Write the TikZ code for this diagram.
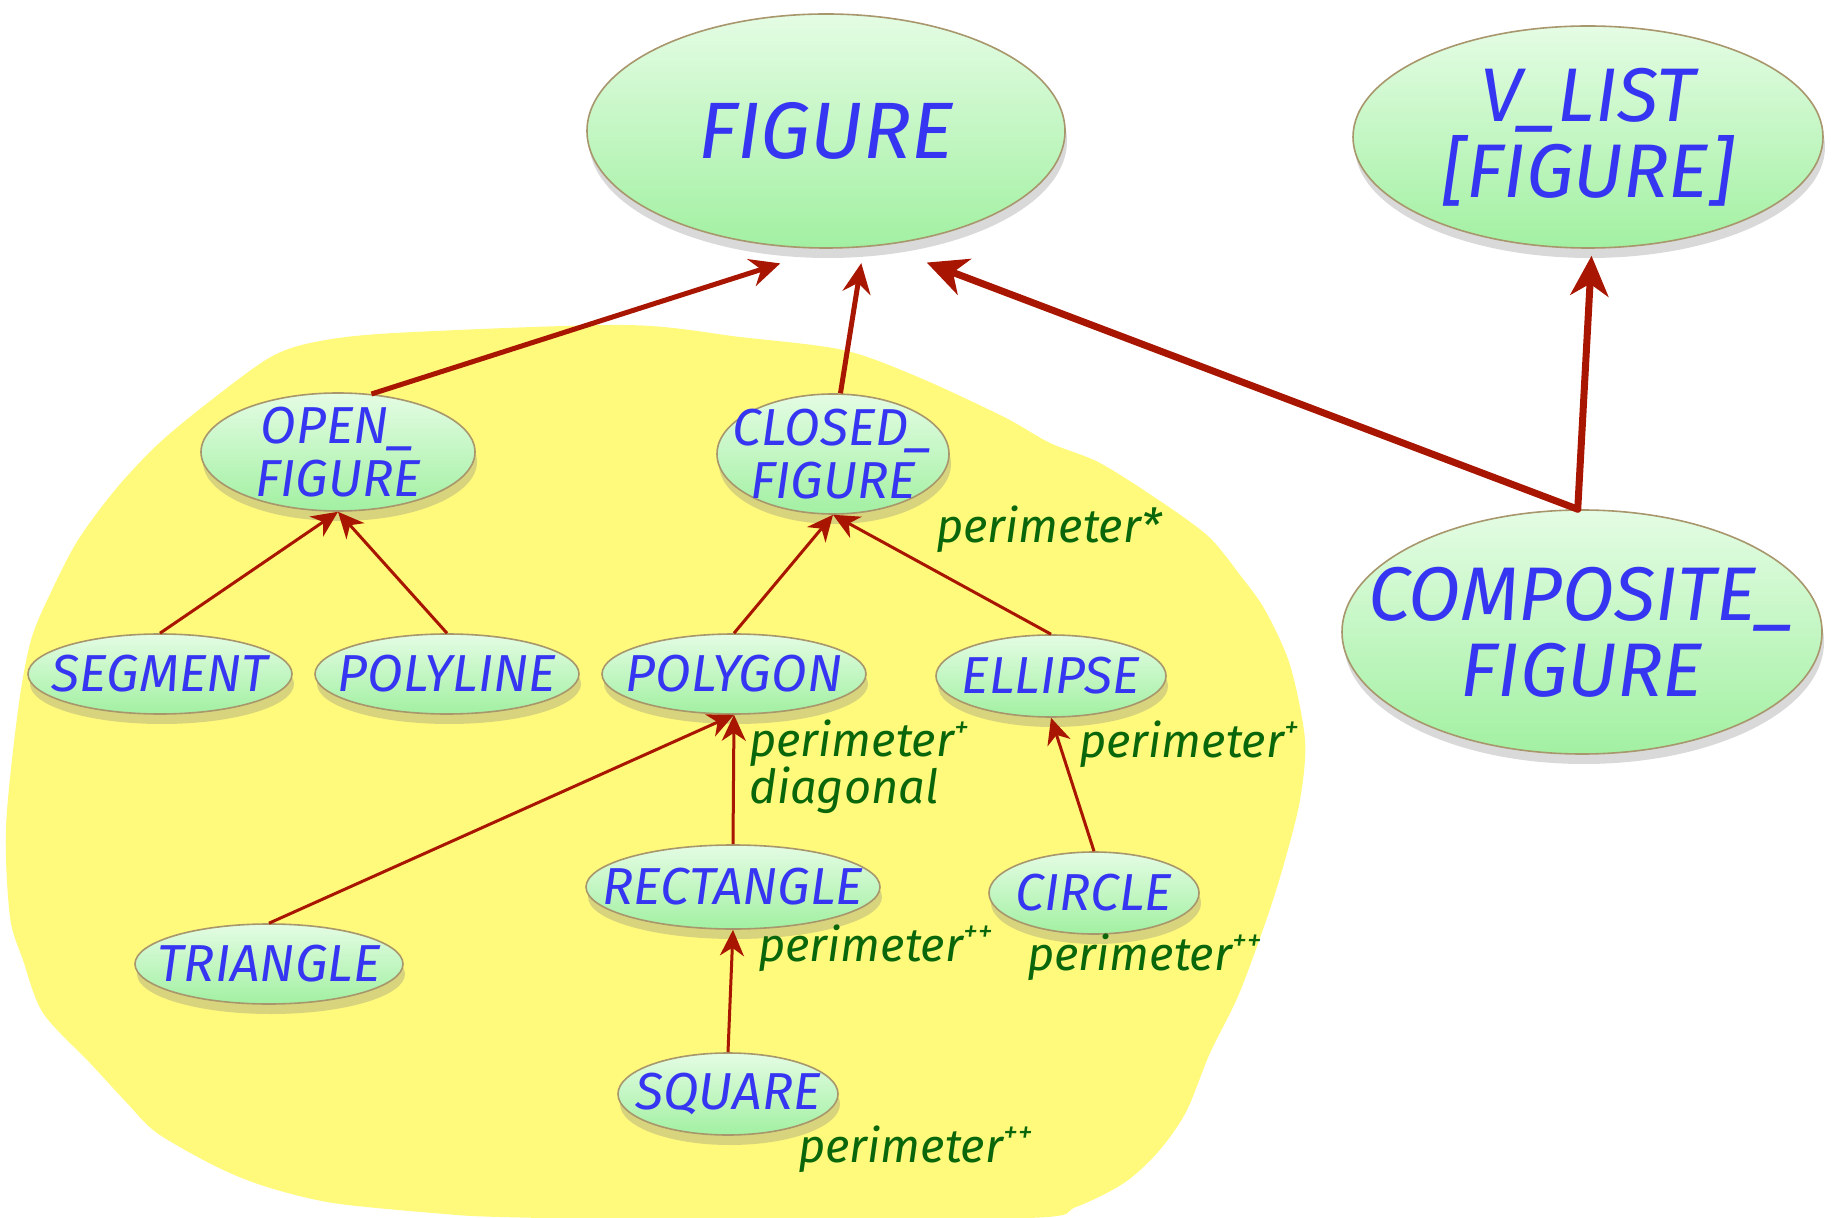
\documentclass[tikz,border=0pt]{standalone}
\usepackage{fontspec}
\setmainfont{Fira Sans}
\usetikzlibrary{shapes.geometric, arrows.meta, shadows}
\definecolor{nodetop}{HTML}{E4FCE4}
\definecolor{nodemid}{HTML}{B4F6B4}
\definecolor{nodebot}{HTML}{A2F0A2}
\definecolor{nodeline}{HTML}{A8966C}
\definecolor{clsblue}{HTML}{3636F2}
\definecolor{featgreen}{HTML}{0A660A}
\definecolor{inhred}{HTML}{A81500}
\definecolor{blob}{HTML}{FFF97C}
\newcommand{\redef}[1]{\raisebox{0.42em}{\fontsize{15}{15}\selectfont #1}}
\tikzstyle{cls} = [ellipse,
draw=nodeline,
line width=0.8pt,
top color=nodetop,
middle color=nodemid,
bottom color=nodebot,
inner sep=0pt,
drop shadow={shadow xshift=1pt, shadow yshift=-5pt, opacity=0.3}]
\tikzstyle{bigclsname} = [font=\fontsize{38}{38}\selectfont\itshape,
text=clsblue,
align=center]
\tikzstyle{clsname} = [font=\fontsize{26}{26.5}\selectfont\itshape,
text=clsblue,
align=center]
\tikzstyle{feat} = [font=\fontsize{23.5}{23.5}\selectfont\itshape,
text=featgreen,
align=left,
inner sep=0pt,
anchor=west]
\tikzstyle{arrow} = [line width=1.5pt, draw=inhred,
-{Stealth[length=13pt, width=12pt, inset=4pt]}]
\tikzstyle{midarrow} = [line width=2.5pt, draw=inhred,
-{Stealth[length=15pt, width=14pt, inset=5pt]}]
\tikzstyle{bigarrow} = [line width=3.5pt, draw=inhred, line cap=round,
-{Stealth[length=20pt, width=19pt, inset=6pt]}]
\begin{document}
\begin{tikzpicture}[x=0.5pt, y=-0.5pt]
\useasboundingbox (0,0) rectangle (1835,1218);

% yellow area
\fill [blob] plot [smooth cycle, tension=0.5] coordinates {
(269,358) (315,342) (395,333) (625,325) (740,337) (843,350) (918,377)
(1004,417) (1050,443) (1100,463) (1163,503) (1209,537)
(1240,575) (1265,610) (1290,665) (1305,740) (1300,800) (1285,860)
(1268,915) (1239,994) (1210,1053) (1186,1112) (1158,1152) (1124,1183)
(1076,1207) (1028,1218) (700,1220) (500,1217) (433,1213) (333,1203)
(267,1187) (217,1167) (157,1133) (127,1103) (90,1063)
(43,1013) (23,960) (10,917) (6,827) (18,710) (31,640) (52,590)
(78,540) (115,490) (156,446) (205,405)};

\node (fig) [cls, minimum width=239pt, minimum height=117pt,
  label={[bigclsname, font=\fontsize{40}{40}\selectfont\itshape]center:FIGURE}] at (826,131) {};
\node (vlist) [cls, minimum width=235pt, minimum height=111pt,
  label={[bigclsname]center:{V\_LIST\\{}[FIGURE]}}] at (1588,137) {};
\node (comp) [cls, minimum width=240pt, minimum height=122pt,
  label={[bigclsname]center:{COMPOSITE\_\\FIGURE}}] at (1582,632) {};

\node (open) [cls, minimum width=137pt, minimum height=59pt,
  label={[clsname]center:{OPEN\_\\FIGURE}}] at (338,452) {};
\node (closed) [cls, minimum width=116pt, minimum height=60pt,
  label={[clsname]center:{CLOSED\_\\FIGURE}}] at (833,454) {};

\node (seg) [cls, minimum width=132pt, minimum height=40pt,
  label={[clsname]center:SEGMENT}] at (160,674) {};
\node (pline) [cls, minimum width=132pt, minimum height=40pt,
  label={[clsname]center:POLYLINE}] at (447,674) {};
\node (pgon) [cls, minimum width=132pt, minimum height=40pt,
  label={[clsname]center:POLYGON}] at (734,674) {};
\node (ell) [cls, minimum width=115pt, minimum height=41pt,
  label={[clsname]center:ELLIPSE}] at (1051,676) {};
\node (rect) [cls, minimum width=147pt, minimum height=42pt,
  label={[clsname]center:RECTANGLE}] at (733,887) {};
\node (circ) [cls, minimum width=105pt, minimum height=41pt,
  label={[clsname]center:CIRCLE}] at (1094,893) {};
\node (tri) [cls, minimum width=134pt, minimum height=40pt,
  label={[clsname]center:TRIANGLE}] at (269,964) {};
\node (sq) [cls, minimum width=110pt, minimum height=41pt,
  label={[clsname]center:SQUARE}] at (728,1094) {};

% features
\node (fclosed) [feat] at (936,529) {perimeter*};
\node (fpgon) [feat] at (749,767) {perimeter\redef{+}\\diagonal};
\node (fell) [feat] at (1079,744) {perimeter\redef{+}};
\node (frect) [feat] at (758,948) {perimeter\redef{++}};
\node (fcirc) [feat] at (1027,957) {perimeter\redef{++}};
\node (fsq) [feat] at (798,1149) {perimeter\redef{++}};

\draw [midarrow, shorten >=24pt] (open.60) -- (fig.south);
\draw [midarrow, shorten >=8pt] (closed.83) -- (fig.288);
\draw [bigarrow, shorten >=24pt] (comp.92) -- (fig.296);
\draw [bigarrow, shorten >=3.5pt] (comp.92) -- (vlist.272);
\draw [arrow] (seg.north) -- (open.south);
\draw [arrow] (pline.north) -- (open.south);
\draw [arrow] (pgon.north) -- (closed.south);
\draw [arrow] (ell.north) -- (closed.south);
\draw [arrow] (tri.north) -- (pgon.south);
\draw [arrow] (rect.north) -- (pgon.south);
\draw [arrow] (circ.north) -- (ell.south);
\draw [arrow] (sq.north) -- (rect.south);

\end{tikzpicture}
\end{document}
